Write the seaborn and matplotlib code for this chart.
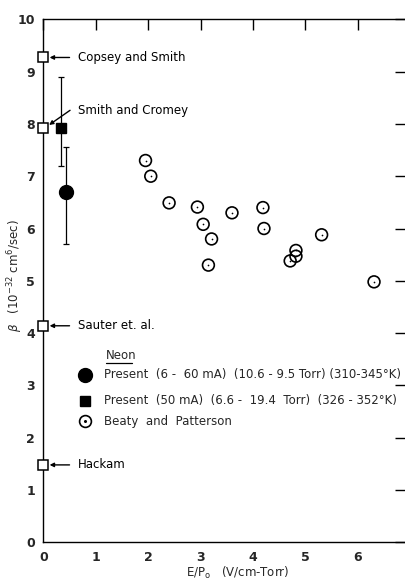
import numpy as np
import pandas as pd
import matplotlib
matplotlib.use("Agg")
import matplotlib.pyplot as plt
import seaborn as sns

# ---- data ----
bp_x = [1.95, 2.05, 2.40, 2.94, 3.05, 3.21, 3.15, 3.60, 4.19, 4.21, 4.82, 4.82, 4.71, 5.31, 6.31]
bp_y = [7.30, 7.00, 6.49, 6.41, 6.08, 5.80, 5.30, 6.30, 6.40, 6.00, 5.58, 5.47, 5.38, 5.88, 4.98]

present_circle_x = [0.43]
present_circle_y = [6.69]
present_circle_lo = [5.70]
present_circle_hi = [7.55]

present_square_x = [0.34]
present_square_y = [7.93]
present_square_lo = [7.20]
present_square_hi = [8.90]

ref_names = ["Copsey and Smith", "Smith and Cromey", "Sauter et. al.", "Hackam"]
ref_x = [0.0, 0.0, 0.0, 0.0]
ref_y = [9.27, 7.92, 4.14, 1.48]

legend_labels = ["Present  (6 -  60 mA)  (10.6 - 9.5 Torr) (310-345\u00b0K)",
                 "Present  (50 mA)  (6.6 -  19.4  Torr)  (326 - 352\u00b0K)",
                 "Beaty  and  Patterson"]

x_ticks = [0, 1, 2, 3, 4, 5, 6]
y_ticks = [0, 1, 2, 3, 4, 5, 6, 7, 8, 9, 10]

sns.set_theme(style="white")
plt.rcParams['font.family'] = ['DejaVu Sans']
plt.rcParams['mathtext.fontset'] = 'dejavusans'

fig = plt.figure(figsize=(4.06, 5.83), dpi=100)
ax = fig.add_axes([0.1067, 0.0698, 0.8933, 0.8971])
ax.set_xlim(0, 6.92)
ax.set_ylim(0, 10)

bp = pd.DataFrame({"x": bp_x, "y": bp_y})
sns.scatterplot(data=bp, x="x", y="y", ax=ax, marker="o", s=72,
                facecolor="none", edgecolor="black", linewidth=1.2, zorder=3)
sns.scatterplot(data=bp, x="x", y="y", ax=ax, marker="o", s=1.5,
                color="black", linewidth=0, zorder=4)

# present data with error bars
ax.errorbar(present_circle_x, present_circle_y,
            yerr=[np.subtract(present_circle_y, present_circle_lo),
                  np.subtract(present_circle_hi, present_circle_y)],
            fmt="o", color="black", markersize=10, elinewidth=0.9,
            capsize=2.5, capthick=0.9, zorder=5)
ax.errorbar(present_square_x, present_square_y,
            yerr=[np.subtract(present_square_y, present_square_lo),
                  np.subtract(present_square_hi, present_square_y)],
            fmt="s", color="black", markersize=7.5, elinewidth=0.9,
            capsize=2.5, capthick=0.9, zorder=5)

# reference open squares on the axis
ax.plot(ref_x, ref_y, linestyle="none", marker="s", markersize=7.5,
        markerfacecolor="white", markeredgecolor="black", markeredgewidth=1.1,
        clip_on=False, zorder=6)

txt_kw = dict(fontsize=8.5, va="center", ha="left", color="black")
arrow_kw = dict(arrowstyle="-|>", lw=1.0, color="black", mutation_scale=6,
                shrinkA=0, shrinkB=0)
for name, yy in zip(ref_names, ref_y):
    if name == "Smith and Cromey":
        ax.text(0.66, 8.25, name, **txt_kw)
        ax.annotate("", xy=(0.11, yy + 0.06), xytext=(0.51, 8.26),
                    arrowprops=arrow_kw, annotation_clip=False)
    else:
        ax.text(0.66, yy, name, **txt_kw)
        ax.annotate("", xy=(0.12, yy), xytext=(0.50, yy),
                    arrowprops=arrow_kw, annotation_clip=False)

# manual legend
leg_x, leg_tx = 0.80, 1.16
leg_rows = [3.20, 2.71, 2.31]
ax.text(1.20, 3.58, "Neon", fontsize=8.5, va="center", ha="left")
ax.plot([1.20, 1.70], [3.42, 3.42], color="black", lw=0.9)
ax.plot([leg_x], [leg_rows[0]], marker="o", color="black", markersize=10, linestyle="none")
ax.plot([leg_x], [leg_rows[1]], marker="s", color="black", markersize=7.5, linestyle="none")
ax.plot([leg_x], [leg_rows[2]], marker="o", markersize=8.5, markerfacecolor="none",
        markeredgecolor="black", markeredgewidth=1.2, linestyle="none")
ax.plot([leg_x], [leg_rows[2]], marker="o", markersize=1.2, color="black", linestyle="none")
for lab, yy in zip(legend_labels, leg_rows):
    ax.text(leg_tx, yy, lab, fontsize=8.5, va="center", ha="left")

# axes styling
ax.set_xticks(x_ticks)
ax.set_xticklabels([str(t) for t in x_ticks])
ax.set_yticks(y_ticks)
ax.set_yticklabels([str(t) for t in y_ticks])
ax.tick_params(axis="both", direction="in", length=8, width=1.0, color="black",
               labelsize=9, pad=6, top=True, right=True)
for lab in ax.get_xticklabels() + ax.get_yticklabels():
    lab.set_fontweight("bold")
ax.spines["right"].set_visible(False)
for s in ["top", "left", "bottom"]:
    ax.spines[s].set_color("black")
    ax.spines[s].set_linewidth(1.0)

ax.set_xlabel("E/P$_\\mathregular{o}$   (V/cm-Torr)", fontsize=8.5)
ax.set_ylabel("$\\beta$   (10$^{-32}$ cm$^6$/sec)", fontsize=8.5)
ax.xaxis.set_label_coords(0.535, -0.043)
ax.yaxis.set_label_coords(-0.05, 0.51)

fig.savefig("out.png", dpi=100)
